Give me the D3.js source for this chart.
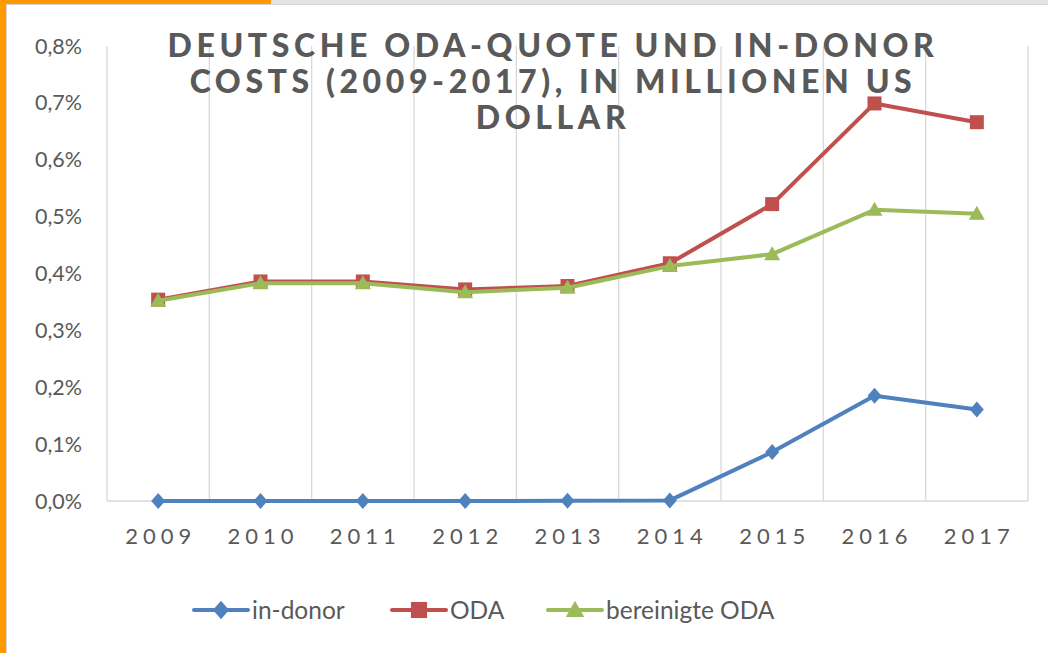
<!DOCTYPE html>
<html>
<head>
<meta charset="utf-8">
<script src="https://cdn.jsdelivr.net/npm/d3@7"></script>
<style>
  body { margin: 0; background: #fff; }
  svg { display: block; font-family: Lato, "Open Sans", sans-serif; }
</style>
</head>
<body>
<svg id="chart" width="1048" height="653"></svg>
<script>
// data (values in percent)
const years = ["2009", "2010", "2011", "2012", "2013", "2014", "2015", "2016", "2017"];
const inDonor = [0.0, 0.0, 0.0, 0.0, 0.0005, 0.001, 0.086, 0.185, 0.161];
const oda = [0.354, 0.386, 0.386, 0.372, 0.378, 0.418, 0.522, 0.699, 0.666];
const bereinigt = [0.352, 0.383, 0.383, 0.367, 0.375, 0.413, 0.434, 0.512, 0.505];
const yTicks = [0, 0.1, 0.2, 0.3, 0.4, 0.5, 0.6, 0.7, 0.8];
const titleLines = ["DEUTSCHE ODA-QUOTE UND IN-DONOR", "COSTS (2009-2017), IN MILLIONEN US", "DOLLAR"];

const series = [
  { name: "in-donor", values: inDonor, color: "#4F81BD", marker: "diamond" },
  { name: "ODA", values: oda, color: "#C0504D", marker: "square" },
  { name: "bereinigte ODA", values: bereinigt, color: "#9BBB59", marker: "triangle" }
];

const svg = d3.select("#chart");
const margin = { left: 107, right: 20, top: 46, bottom: 152 };
const W = 1048, H = 653;

// page frame: grey strip, orange corner
svg.append("rect").attr("x", 0).attr("y", 0).attr("width", W).attr("height", 4).attr("fill", "#e4e4e4");
svg.append("rect").attr("x", 0).attr("y", 4).attr("width", W).attr("height", 1).attr("fill", "#d4d4d4");
svg.append("rect").attr("x", 6).attr("y", 0).attr("width", 1).attr("height", H).attr("fill", "#d8d8d8");
svg.append("rect").attr("x", 0).attr("y", 0).attr("width", 271).attr("height", 4).attr("fill", "#FF9900");
svg.append("rect").attr("x", 0).attr("y", 0).attr("width", 6).attr("height", H).attr("fill", "#FF9900");

const x = d3.scaleBand().domain(years).range([margin.left, W - margin.right]);
const y = d3.scaleLinear().domain([0, 0.8]).range([H - margin.bottom, margin.top]);

// vertical gridlines at category edges
const edges = years.map(d => x(d)).concat([x(years[years.length - 1]) + x.bandwidth()]);
svg.append("g").selectAll("line").data(edges).join("line")
  .attr("x1", d => d).attr("x2", d => d)
  .attr("y1", y(0.8)).attr("y2", y(0))
  .attr("stroke", "#d9d9d9").attr("stroke-width", 1.3);

// x axis line
svg.append("line")
  .attr("x1", margin.left).attr("x2", W - margin.right)
  .attr("y1", y(0)).attr("y2", y(0))
  .attr("stroke", "#d9d9d9").attr("stroke-width", 1.3);

// y tick labels
svg.append("g").selectAll("text").data(yTicks).join("text")
  .attr("x", 82).attr("y", d => y(d)).attr("dy", "0.35em")
  .attr("text-anchor", "end")
  .attr("fill", "#595959").style("font-size", "21.5px")
  .text(d => d3.format(".1f")(d).replace(".", ",") + "%");

// x tick labels
svg.append("g").selectAll("text").data(years).join("text")
  .attr("x", d => x(d) + x.bandwidth() / 2 + 2.5).attr("y", 544)
  .attr("text-anchor", "middle")
  .attr("fill", "#595959").style("font-size", "22px").style("letter-spacing", "5px")
  .text(d => d);

// markers
function drawMarker(g, type, color, k) {
  k = k || 1;
  if (type === "diamond") {
    g.append("path").attr("d", `M0,${-8 * k} L${7 * k},0 L0,${8 * k} L${-7 * k},0 Z`).attr("fill", color);
  } else if (type === "square") {
    g.append("rect").attr("x", -7 * k).attr("y", -7 * k).attr("width", 14 * k).attr("height", 14 * k).attr("fill", color);
  } else {
    g.append("path").attr("d", `M0,${-8 * k} L${8 * k},${6 * k} L${-8 * k},${6 * k} Z`).attr("fill", color);
  }
}

const line = d3.line()
  .x((d, i) => x(years[i]) + x.bandwidth() / 2)
  .y(d => y(d));

series.forEach(s => {
  svg.append("path").datum(s.values)
    .attr("d", line).attr("fill", "none")
    .attr("stroke", s.color).attr("stroke-width", 4).attr("stroke-linejoin", "round");
  svg.append("g").selectAll("g").data(s.values).join("g")
    .attr("transform", (d, i) => `translate(${x(years[i]) + x.bandwidth() / 2},${y(d)})`)
    .each(function () { drawMarker(d3.select(this), s.marker, s.color); });
});

// title
svg.append("g").selectAll("text").data(titleLines).join("text")
  .attr("x", 553).attr("y", (d, i) => 57 + i * 36)
  .attr("text-anchor", "middle")
  .attr("fill", "#595959").style("font-size", "32px").style("font-weight", "900")
  .style("letter-spacing", "4.6px")
  .text(d => d);

// legend
const legendX = [194, 392, 548];
const legendY = 610;
series.forEach((s, i) => {
  const g = svg.append("g").attr("transform", `translate(${legendX[i]},${legendY})`);
  g.append("line").attr("x1", 0).attr("x2", 54).attr("y1", 0).attr("y2", 0)
    .attr("stroke", s.color).attr("stroke-width", 4).attr("stroke-linecap", "round");
  const m = g.append("g").attr("transform", "translate(27,0)");
  drawMarker(m, s.marker, s.color, 1.15);
  g.append("text").attr("x", 58).attr("y", 0).attr("dy", "0.35em")
    .attr("fill", "#595959").style("font-size", "24.5px")
    .text(s.name);
});
</script>
</body>
</html>
